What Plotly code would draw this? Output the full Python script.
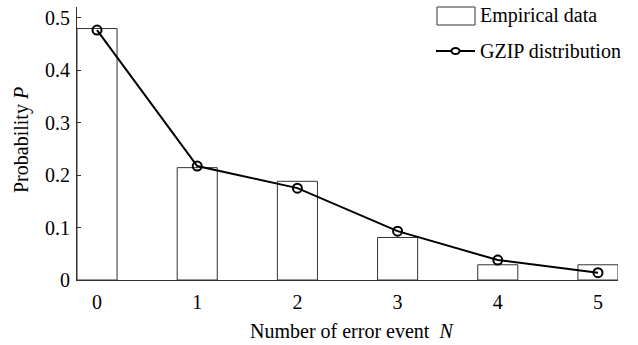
import plotly.graph_objects as go

N = [0, 1, 2, 3, 4, 5]
empirical = [0.479, 0.214, 0.188, 0.081, 0.029, 0.029]
gzip = [0.476, 0.217, 0.175, 0.093, 0.038, 0.014]
ytick_vals = [0, 0.1, 0.2, 0.3, 0.4, 0.5]
ytick_text = ["0", "0.1", "0.2", "0.3", "0.4", "0.5"]

FONT = "Liberation Serif, Times New Roman, serif"
W, H = 638, 345
L, R, T, B = 77, 20, 7, 65
pw, ph = W - L - R, H - T - B

def px(x):
    return (x - L) / pw

def py(y):
    return (H - B - y) / ph

fig = go.Figure()
fig.add_trace(go.Bar(x=N, y=empirical, width=0.4, name="Empirical data",
                     marker=dict(color="white", line=dict(color="#333", width=1)),
                     showlegend=False))
fig.add_trace(go.Scatter(x=N, y=gzip, mode="lines+markers", name="GZIP distribution",
                         line=dict(color="black", width=2),
                         marker=dict(symbol="circle-open", size=9, color="black",
                                     line=dict(width=2)),
                         showlegend=False))

shapes = [
    dict(type="rect", xref="paper", yref="paper", x0=px(437), x1=px(475),
         y0=py(25), y1=py(7), line=dict(color="#333", width=1), fillcolor="white"),
    dict(type="line", xref="paper", yref="paper", x0=px(436), x1=px(475),
         y0=py(51), y1=py(51), line=dict(color="black", width=2)),
    dict(type="circle", xref="paper", yref="paper", x0=px(451.5), x1=px(459.5),
         y0=py(54), y1=py(48), line=dict(color="black", width=2), fillcolor="white"),
]
tf = dict(family=FONT, size=20, color="black")
annotations = [
    dict(text="Empirical data", xref="paper", yref="paper", x=px(478), y=py(16),
         xanchor="left", yanchor="middle", showarrow=False, font=tf),
    dict(text="GZIP distribution", xref="paper", yref="paper", x=px(478), y=py(51),
         xanchor="left", yanchor="middle", showarrow=False, font=tf),
    dict(text="Number of error event  <i>N</i>", xref="paper", yref="paper",
         x=px(352), y=py(331), xanchor="center", yanchor="middle", showarrow=False,
         font=tf),
    dict(text="Probability <i>P</i>", xref="paper", yref="paper",
         x=px(21), y=py(140), xanchor="center", yanchor="middle", showarrow=False,
         textangle=-90, font=tf),
]

fig.update_layout(
    width=W, height=H,
    margin=dict(l=L, r=R, t=T, b=B),
    paper_bgcolor="white", plot_bgcolor="white",
    font=tf,
    shapes=shapes, annotations=annotations,
    xaxis=dict(range=[-0.2, 5.2], tickvals=N, ticks="", showline=True,
               linecolor="#333", linewidth=1, showgrid=False, zeroline=False,
               tickfont=tf, ticklabelstandoff=4, fixedrange=True),
    yaxis=dict(range=[0, 0.52], tickvals=ytick_vals, ticktext=ytick_text,
               ticks="inside", ticklen=4, tickcolor="#333", showline=True,
               linecolor="#333", linewidth=1, showgrid=False, zeroline=False,
               tickfont=tf, ticklabelstandoff=2, fixedrange=True),
)

fig.write_html("out.html")
